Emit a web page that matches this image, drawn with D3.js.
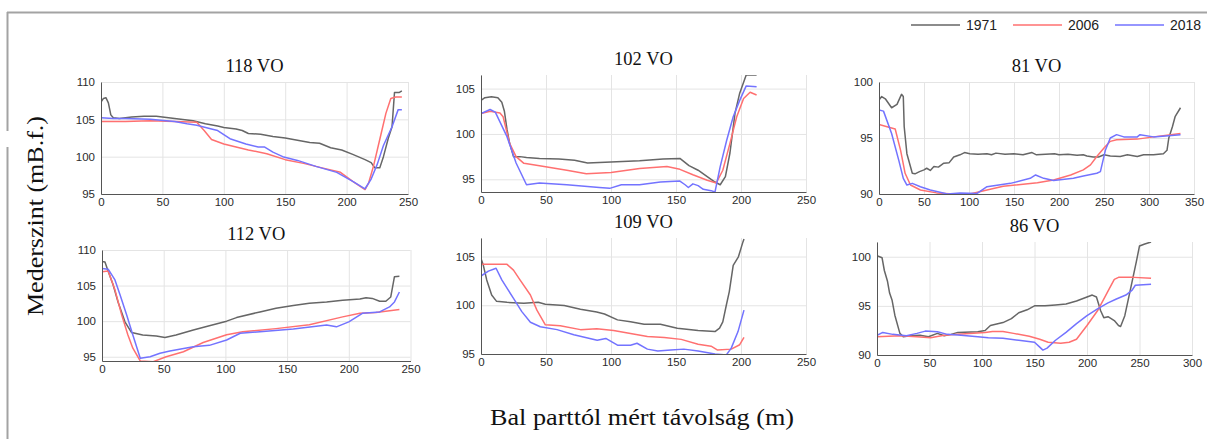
<!DOCTYPE html>
<html>
<head>
<meta charset="utf-8">
<script src="https://cdn.jsdelivr.net/npm/d3@7"></script>
<style>
  body { margin: 0; background: #fff; }
  .tick text { font-family: "Liberation Sans", Arial, sans-serif; font-size: 11.5px; fill: #2b2b2b; }
  .grid line { stroke: #e4e4e4; }
  .axis path { stroke: #555; }
  .title { font-family: "Liberation Serif", "Times New Roman", serif; font-size: 18.5px; fill: #111; }
  .axis-label { font-family: "Liberation Serif", "Times New Roman", serif; font-size: 23px; fill: #111; }
  .legend { font-family: "Liberation Sans", Arial, sans-serif; font-size: 14px; fill: #222; }
</style>
</head>
<body>
<div id="chart"></div>
<script>
const years = ["1971", "2006", "2018"];
const panelNames = ["118 VO", "102 VO", "81 VO", "112 VO", "109 VO", "86 VO"];

// [távolság (m), mederszint (mBf)]
const vo118_1971 = [[0,107.3],[2,107.8],[4,107.9],[6,107.2],[8,105.6],[10,105.2],[15,105.1],[25,105.3],[35,105.4],[45,105.4],[55,105.2],[65,105.0],[75,104.8],[85,104.4],[95,104.1],[100,103.9],[110,103.7],[115,103.5],[120,103.1],[130,103.0],[140,102.7],[150,102.5],[160,102.2],[170,101.9],[178,101.8],[187,101.2],[196,100.9],[205,100.3],[215,99.6],[220,99.2],[223,98.5],[227,98.5],[230,100.0],[234,102.5],[237,104.0],[239,108.6],[243,108.6],[245,108.8]];
const vo118_2006 = [[0,104.7],[20,104.7],[40,104.8],[60,104.7],[78,104.6],[84,103.5],[90,102.3],[100,101.7],[110,101.3],[120,100.9],[135,100.4],[150,99.6],[165,99.1],[180,98.5],[195,97.9],[205,96.7],[215,95.6],[218,96.5],[222,98.8],[228,103.0],[232,105.8],[236,107.8],[240,108.0],[245,108.0]];
const vo118_2018 = [[0,105.2],[10,105.1],[20,105.1],[40,105.0],[60,104.7],[70,104.4],[78,104.2],[90,103.7],[95,103.5],[105,102.4],[118,101.7],[128,101.3],[133,101.3],[140,100.6],[148,100.0],[160,99.5],[175,98.7],[192,97.9],[205,96.7],[215,95.7],[220,97.0],[225,99.0],[230,101.5],[237,104.0],[242,106.3],[245,106.3]];

const vo102_1971 = [[0,103.7],[3,104.0],[8,104.1],[13,104.0],[16,103.5],[18,102.5],[20,100.5],[22,99.0],[25,97.5],[30,97.5],[35,97.4],[45,97.3],[60,97.25],[72,97.1],[82,96.8],[100,96.9],[122,97.05],[140,97.25],[153,97.3],[160,96.5],[167,96.0],[174,95.3],[180,94.7],[184,94.4],[188,95.3],[191.5,97.9],[195.4,102.3],[199,104.5],[204,106.5],[212,106.5]];
const vo102_2006 = [[0,102.25],[7,102.5],[14.6,102.3],[17,101.9],[22,98.96],[27,97.5],[33,96.76],[45,96.5],[66,96.0],[81,95.6],[100,95.75],[122,96.2],[143,96.4],[153,96.1],[163,95.5],[174,94.9],[181,94.6],[186,96.0],[191.5,98.96],[196.7,101.9],[202,103.9],[207,104.6],[212,104.3]];
const vo102_2018 = [[0,102.25],[7,102.7],[11,102.4],[20,99.7],[27,96.8],[35,94.4],[45,94.6],[66,94.4],[91,94.1],[99,94.0],[108,94.4],[122,94.4],[138,94.7],[153,94.8],[157,94.4],[159.5,94.1],[163,94.5],[167,94.3],[171,93.9],[177,93.75],[180,93.6],[184,96.4],[189,99.3],[194,101.9],[199,103.7],[204,105.3],[212,105.2]];

const vo81_1971 = [[0,98.4],[3,98.7],[7,98.5],[14,97.7],[20,98.0],[25,98.9],[27,98.7],[28,96.0],[31,93.6],[37,91.85],[40,91.8],[45,92.0],[50,92.15],[53,92.3],[57,92.1],[61,92.45],[66,92.4],[72,92.75],[78,92.8],[83,93.3],[90,93.5],[95,93.7],[101,93.6],[110,93.55],[120,93.6],[125,93.5],[130,93.65],[140,93.55],[150,93.6],[160,93.5],[170,93.7],[175,93.5],[185,93.55],[195,93.6],[200,93.5],[210,93.55],[220,93.45],[227,93.5],[231,93.4],[238,93.3],[244,93.3],[250,93.5],[257,93.4],[268,93.35],[276,93.5],[287,93.35],[294,93.5],[305,93.5],[316,93.6],[320,93.9],[322,95.0],[326,96.0],[329,96.9],[335,97.7]];
const vo81_2006 = [[0,96.2],[9,96.0],[18,95.8],[24,93.9],[29,91.85],[35,90.8],[46,90.36],[64,90.1],[83,90.0],[101,90.0],[120,90.36],[138,90.7],[176,91.0],[194,91.25],[213,91.7],[227,92.15],[235,92.6],[242,93.35],[250,94.1],[257,94.7],[264,94.85],[287,94.9],[305,95.1],[335,95.4]];
const vo81_2018 = [[0,97.5],[5,97.4],[14,95.4],[22,93.0],[27,91.4],[31,90.8],[37,90.95],[46,90.65],[57,90.36],[76,90.0],[90,90.1],[109,90.05],[120,90.65],[146,90.95],[168,91.4],[174,91.7],[183,91.4],[194,91.2],[216,91.4],[227,91.6],[242,91.85],[246,92.0],[251.5,93.9],[257,95.0],[264,95.3],[272,95.1],[287,95.1],[290,95.3],[305,95.1],[335,95.3]];

const vo112_1971 = [[0,108.4],[2.4,108.3],[5,107.0],[9,105.1],[13,102.7],[18.6,99.9],[24,98.4],[33,98.05],[44,97.9],[51,97.7],[60,98.05],[74,98.75],[87,99.36],[101,100.0],[109,100.5],[128,101.3],[141,101.8],[155,102.2],[168,102.5],[182,102.7],[195,102.95],[209,103.1],[214,103.3],[219,103.2],[225,102.8],[230,102.8],[234,103.4],[237,106.25],[241,106.3]];
const vo112_2006 = [[0,106.95],[5,107.05],[10.5,104.4],[16,100.85],[21,98.05],[25,96.2],[31,94.4],[41.5,94.3],[52,95.0],[66,95.7],[82,97.0],[101,98.1],[114,98.5],[141,98.95],[168,99.5],[195,100.6],[209,101.1],[222,101.2],[241,101.65]];
const vo112_2018 = [[0,107.4],[5,107.3],[10.5,105.8],[14.6,103.7],[20,100.85],[25,98.05],[31,94.8],[39,95.0],[47,95.5],[55,95.8],[74,96.4],[87,96.6],[101,97.35],[112,98.3],[128,98.5],[155,98.9],[182,99.45],[190,99.2],[200,99.9],[211,101.1],[225,101.3],[233,102.0],[237,102.7],[241,104.1]];

const vo109_1971 = [[0,104.8],[1.8,104.1],[4.4,102.6],[8.2,101.05],[12,100.4],[20,100.3],[33,100.2],[44,100.3],[49.5,100.1],[64,99.97],[76.5,99.6],[89,99.3],[95,99.1],[105,98.5],[115,98.3],[125.5,98.06],[138,98.06],[151,97.65],[167,97.4],[180,97.3],[183.5,97.65],[186,98.3],[188.7,100.0],[191,101.4],[194,104.1],[198,104.97],[201.5,106.5],[202.3,106.8]];
const vo109_2006 = [[0,104.2],[20,104.2],[25,103.6],[30,102.6],[38,101.05],[43,99.5],[49.5,98.0],[61,97.9],[76.5,97.5],[89,97.6],[102,97.4],[115,97.1],[128,96.8],[141,96.7],[154,96.5],[167,96.0],[177,95.8],[182,95.4],[192.5,95.5],[199,95.95],[202.3,96.7]];
const vo109_2018 = [[0,103.0],[5.7,103.5],[11.6,103.8],[16,102.6],[25,100.7],[31.4,99.35],[38,98.26],[45.6,97.8],[58.5,97.5],[71.4,96.97],[89.4,96.4],[96,96.6],[105,95.9],[115,95.9],[120,96.1],[128,95.5],[136,95.3],[146,95.4],[156,95.5],[167,95.3],[180,95.0],[188.7,94.9],[192.5,95.6],[197.7,97.3],[202.3,99.5]];

const vo86_1971 = [[0,100.1],[4.8,99.9],[7,98.6],[10,97.5],[12,96.3],[14.3,95.6],[17,94.05],[21.8,92.2],[25,91.86],[31.5,91.96],[41,92.0],[49,91.86],[57.5,92.2],[64,91.96],[70.5,92.1],[77,92.3],[96,92.36],[103,92.5],[108,93.0],[120,93.3],[128,93.7],[135,94.3],[143,94.6],[150,95.0],[160,95.0],[170,95.1],[180,95.2],[190,95.5],[200,95.9],[205,96.1],[209,95.9],[213,94.5],[216,93.8],[220,93.9],[226,93.5],[230,93.0],[232,92.9],[236,94.0],[238,95.0],[243,97.5],[247,99.5],[250,101.1],[255,101.3],[261,101.5]];
const vo86_2006 = [[0,91.86],[21.8,91.96],[38,91.86],[51,91.76],[64,92.0],[77,92.1],[103,92.3],[110,92.4],[120,92.4],[130,92.2],[145,91.9],[155,91.6],[163,91.3],[175,91.2],[183,91.3],[190,91.6],[200,93.0],[210,94.5],[220,96.5],[226,97.7],[230,97.9],[245,97.9],[261,97.8]];
const vo86_2018 = [[0,92.0],[5.5,92.3],[15,92.1],[28,91.96],[38,92.2],[46,92.43],[57.5,92.36],[67,92.1],[80,92.0],[96,91.86],[106,91.76],[120,91.7],[135,91.5],[150,91.3],[155,90.8],[158,90.5],[162,90.7],[170,91.5],[180,92.3],[190,93.2],[200,94.0],[210,94.7],[220,95.3],[228,95.7],[237,96.1],[243,96.6],[246,97.1],[261,97.2]];

// tengelyek
const xDomains = [[0,250],[0,250],[0,350],[0,250],[0,250],[0,300]];
const yDomains = [[95,110],[93.6,106.5],[90,100],[94.4,110],[95,106.9],[90,101.5]];
const xTicks = [[0,50,100,150,200,250],[0,50,100,150,200,250],[0,50,100,150,200,250,300,350],[0,50,100,150,200,250],[0,50,100,150,200,250],[0,50,100,150,200,250,300]];
const yTicks = [[95,100,105,110],[95,100,105],[90,95,100],[95,100,105,110],[95,100,105],[90,95,100]];

const seriesByPanel = [
  [vo118_1971, vo118_2006, vo118_2018],
  [vo102_1971, vo102_2006, vo102_2018],
  [vo81_1971, vo81_2006, vo81_2018],
  [vo112_1971, vo112_2006, vo112_2018],
  [vo109_1971, vo109_2006, vo109_2018],
  [vo86_1971, vo86_2006, vo86_2018]
];

// pixel box of each small plot [left, top, right, bottom]
const boxes = [
  [101, 82, 408, 194],
  [481, 75, 806, 192],
  [879, 82, 1194, 194],
  [102, 250, 410.5, 361],
  [481, 238, 806, 354],
  [877, 242, 1192, 355]
];

const color = d3.scaleOrdinal().domain(years).range(["#666666", "#ff7070", "#7373ff"]);

const svg = d3.select("#chart")
  .append("svg")
  .attr("width", 1207)
  .attr("height", 439);

// frame
svg.append("line").attr("x1", 7).attr("x2", 1207).attr("y1", 12.5).attr("y2", 12.5)
  .attr("stroke", "#a3a3a3").attr("stroke-width", 2);
svg.append("line").attr("x1", 7.5).attr("x2", 7.5).attr("y1", 12).attr("y2", 131)
  .attr("stroke", "#a3a3a3").attr("stroke-width", 2);
svg.append("line").attr("x1", 7.5).attr("x2", 7.5).attr("y1", 147).attr("y2", 439)
  .attr("stroke", "#a3a3a3").attr("stroke-width", 2);

function drawPanel(i) {
  const [l, t, r, b] = boxes[i];
  const w = r - l, h = b - t;
  const g = svg.append("g").attr("transform", `translate(${l},${t})`);

  const x = d3.scaleLinear().domain(xDomains[i]).range([0, w]);
  const y = d3.scaleLinear().domain(yDomains[i]).range([h, 0]);

  g.append("g").attr("class", "grid")
    .call(d3.axisBottom(x).tickValues(xTicks[i]).tickSize(h).tickFormat(""))
    .call((s) => s.select(".domain").remove());
  g.append("g").attr("class", "grid")
    .call(d3.axisLeft(y).tickValues(yTicks[i]).tickSize(-w).tickFormat(""))
    .call((s) => s.select(".domain").remove());

  g.append("clipPath").attr("id", `clip${i}`)
    .append("rect").attr("width", w).attr("height", h);

  const line = d3.line().x((d) => x(d[0])).y((d) => y(d[1]));
  g.append("g").attr("clip-path", `url(#clip${i})`)
    .selectAll("path")
    .data(seriesByPanel[i])
    .join("path")
    .attr("fill", "none")
    .attr("stroke", (d, k) => color(years[k]))
    .attr("stroke-width", 1.5)
    .attr("stroke-linejoin", "round")
    .attr("d", line);

  g.append("g").attr("class", "axis")
    .attr("transform", `translate(0,${h})`)
    .call(d3.axisBottom(x).tickValues(xTicks[i]).tickSize(0).tickPadding(4))
    .call((s) => s.select(".domain").attr("stroke", "#555"));
  g.append("g").attr("class", "axis")
    .call(d3.axisLeft(y).tickValues(yTicks[i]).tickSize(0).tickPadding(6))
    .call((s) => s.select(".domain").attr("stroke", "#555"));

  g.append("text").attr("class", "title")
    .attr("x", w / 2).attr("y", -10)
    .attr("text-anchor", "middle")
    .text(panelNames[i]);
}

for (let i = 0; i < panelNames.length; i++) drawPanel(i);

// axis labels
svg.append("text").attr("class", "axis-label")
  .attr("transform", "translate(43,216) rotate(-90)")
  .attr("text-anchor", "middle")
  .attr("textLength", 200)
  .attr("lengthAdjust", "spacingAndGlyphs")
  .text("Mederszint (mB.f.)");
svg.append("text").attr("class", "axis-label")
  .attr("x", 642).attr("y", 425)
  .attr("text-anchor", "middle")
  .attr("textLength", 304)
  .attr("lengthAdjust", "spacingAndGlyphs")
  .text("Bal parttól mért távolság (m)");

// legend
const legendX = [911, 1013, 1115];
const legend = svg.append("g").selectAll("g").data(years).join("g")
  .attr("transform", (d, k) => `translate(${legendX[k]},25)`);
legend.append("line").attr("x1", 0).attr("x2", 49)
  .attr("stroke", (d) => color(d)).attr("stroke-width", 1.5);
legend.append("text").attr("class", "legend")
  .attr("x", 55).attr("y", 5).text((d) => d);
</script>
</body>
</html>
